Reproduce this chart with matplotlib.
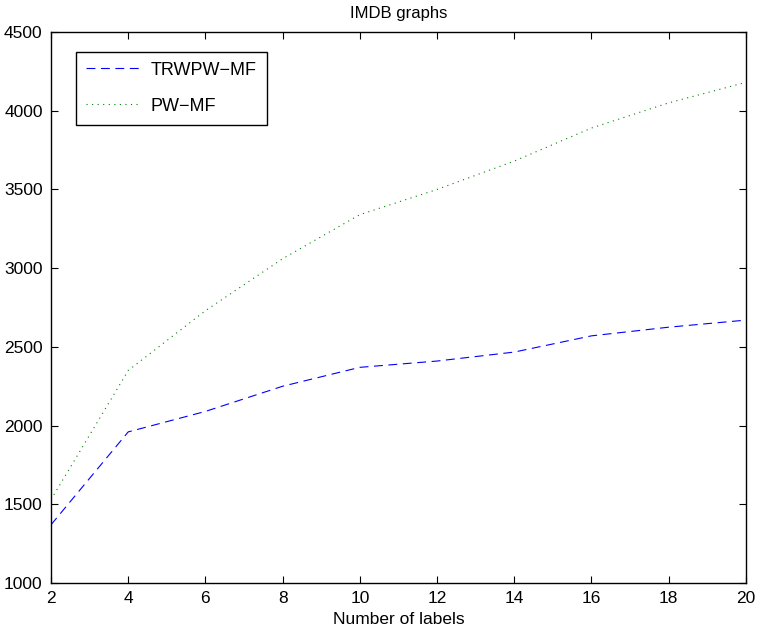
import matplotlib
matplotlib.use("Agg")
import matplotlib.pyplot as plt

plt.rcParams["font.family"] = ["Liberation Sans", "DejaVu Sans"]

labels = [2, 4, 6, 8, 10, 12, 14, 16, 18, 20]
trwpw_mf = [1370, 1960, 2090, 2250, 2370, 2410, 2467, 2570, 2625, 2670]
pw_mf = [1530, 2350, 2730, 3060, 3340, 3500, 3680, 3890, 4050, 4180]

fig = plt.figure(figsize=(7.58, 6.29), dpi=100)
ax = fig.add_axes([0.0673, 0.0731, 0.9167, 0.8760])

ax.plot(labels, trwpw_mf, color="blue", linestyle=(0, (8, 5)), linewidth=0.8, label="TRWPW\u2212MF")
ax.plot(labels, pw_mf, color="green", linestyle=(0, (1, 4)), linewidth=0.8, label="PW\u2212MF")

ax.set_xlim(2, 20)
ax.set_ylim(1000, 4500)
ax.set_xticks(range(2, 21, 2))
ax.set_yticks(range(1000, 4501, 500))
ax.tick_params(direction="in", top=True, right=True, length=5, width=0.8, labelsize=12.5, pad=6)
for s in ax.spines.values():
    s.set_linewidth(1.0)

ax.set_title("IMDB graphs", fontsize=12, pad=10)
ax.set_xlabel("Number of labels", fontsize=12.5, labelpad=4)

leg = ax.legend(loc="upper left", bbox_to_anchor=(0.036, 0.964), borderaxespad=0,
                fontsize=13, fancybox=False, edgecolor="black", framealpha=1,
                handlelength=3.0, handletextpad=0.6, borderpad=0.55, labelspacing=1.05)
leg.get_frame().set_linewidth(1.0)

fig.savefig("out.png", dpi=100)
